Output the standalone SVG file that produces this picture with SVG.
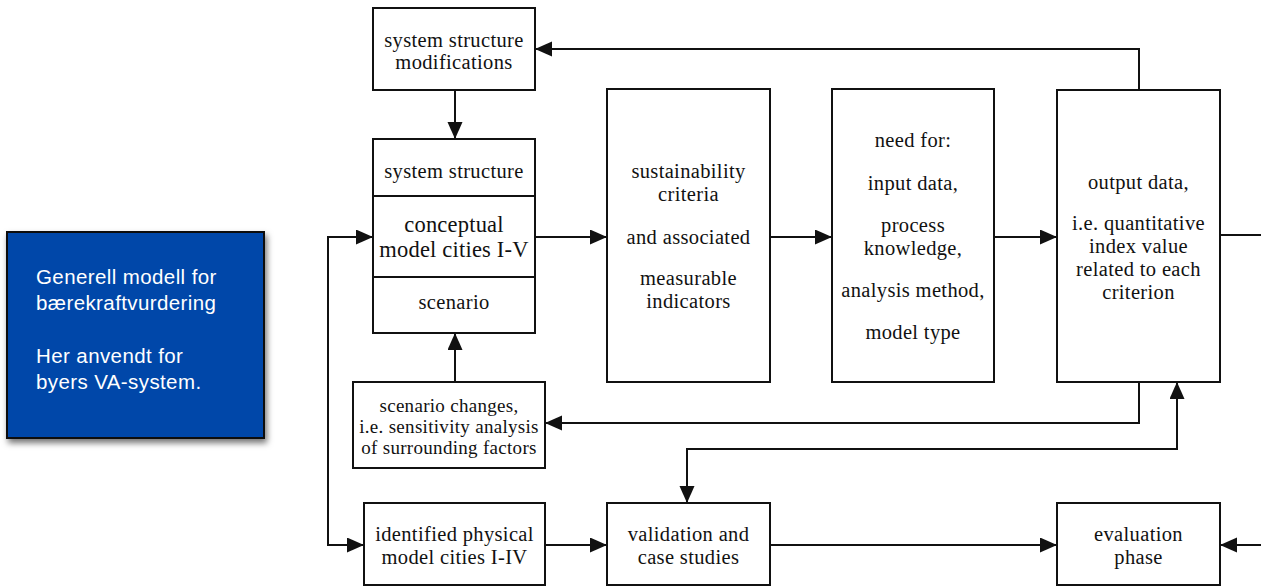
<svg xmlns="http://www.w3.org/2000/svg" width="1261" height="588" viewBox="0 0 1261 588">
<style>
.box{fill:#fff;stroke:#111;stroke-width:2}
.t{font-family:"Liberation Serif","Times New Roman",serif;font-size:20.5px;fill:#111;text-anchor:middle;letter-spacing:0.35px}
.big{font-size:22.5px;letter-spacing:0.2px}
.sm{font-size:19px;letter-spacing:0.3px}
.c{fill:none;stroke:#111;stroke-width:2}
.note{font-family:"Liberation Sans",Arial,sans-serif;font-size:20.5px;fill:#fff;letter-spacing:0.4px}
</style>
<defs>
<marker id="ah" markerUnits="userSpaceOnUse" markerWidth="18" markerHeight="16" refX="17" refY="7.5" orient="auto-start-reverse">
<path d="M0,0 L17,7.5 L0,15 z" fill="#111"/>
</marker>
<filter id="sh" x="-10%" y="-10%" width="130%" height="130%">
<feDropShadow dx="2" dy="4" stdDeviation="3" flood-color="#000" flood-opacity="0.55"/>
</filter>
</defs>
<rect width="1261" height="588" fill="#fff"/>

<g id="note">
<rect x="7" y="232" width="257" height="206" fill="#0447A9" stroke="#0a0a0a" stroke-width="2" filter="url(#sh)"/>
<text class="note" x="36" y="284">Generell modell for</text>
<text class="note" x="36" y="310">bærekraftvurdering</text>
<text class="note" x="36" y="363">Her anvendt for</text>
<text class="note" x="36" y="389">byers VA-system.</text>
</g>

<g id="connectors">
<path class="c" d="M1139,90 V49 H535" marker-end="url(#ah)"/>
<path class="c" d="M455,90 V139" marker-end="url(#ah)"/>
<path class="c" d="M535,237 H607" marker-end="url(#ah)"/>
<path class="c" d="M770,237 H832" marker-end="url(#ah)"/>
<path class="c" d="M994,237 H1057" marker-end="url(#ah)"/>
<path class="c" d="M1220,235 H1261"/>
<path class="c" d="M1139,382 V423 H545" marker-end="url(#ah)"/>
<path class="c" d="M455,382 V333" marker-end="url(#ah)"/>
<path class="c" d="M373,237 H328 V545 H364" marker-start="url(#ah)" marker-end="url(#ah)"/>
<path class="c" d="M545,545 H607" marker-end="url(#ah)"/>
<path class="c" d="M687,503 V449 H1177 V382" marker-start="url(#ah)" marker-end="url(#ah)"/>
<path class="c" d="M770,545 H1057" marker-end="url(#ah)"/>
<path class="c" d="M1261,545 H1220" marker-end="url(#ah)"/>
</g>

<g id="mods">
<rect class="box" x="373" y="8" width="162" height="82"/>
<text class="t" x="454" y="47">system structure</text>
<text class="t" x="454" y="69">modifications</text>
</g>

<g id="main">
<rect class="box" x="373" y="139" width="162" height="194"/>
<line class="c" x1="373" y1="196" x2="535" y2="196"/>
<line class="c" x1="373" y1="277" x2="535" y2="277"/>
<text class="t" x="454" y="178">system structure</text>
<text class="t big" x="454" y="232">conceptual</text>
<text class="t big" x="454" y="257">model cities I-V</text>
<text class="t" x="454" y="309">scenario</text>
</g>

<g id="sustainability">
<rect class="box" x="607" y="89" width="163" height="293"/>
<text class="t" x="688.5" y="178">sustainability</text>
<text class="t" x="688.5" y="201">criteria</text>
<text class="t" x="688.5" y="244">and associated</text>
<text class="t" x="688.5" y="285">measurable</text>
<text class="t" x="688.5" y="308">indicators</text>
</g>

<g id="need">
<rect class="box" x="832" y="89" width="162" height="293"/>
<text class="t" x="913" y="147">need for:</text>
<text class="t" x="913" y="190">input data,</text>
<text class="t" x="913" y="232">process</text>
<text class="t" x="913" y="255">knowledge,</text>
<text class="t" x="913" y="297">analysis method,</text>
<text class="t" x="913" y="339">model type</text>
</g>

<g id="output">
<rect class="box" x="1057" y="90" width="163" height="292"/>
<text class="t" x="1138.5" y="189">output data,</text>
<text class="t" x="1138.5" y="230">i.e. quantitative</text>
<text class="t" x="1138.5" y="253">index value</text>
<text class="t" x="1138.5" y="276">related to each</text>
<text class="t" x="1138.5" y="299">criterion</text>
</g>

<g id="scenario-changes">
<rect class="box" x="353" y="382" width="192" height="86"/>
<text class="t sm" x="449" y="412">scenario changes,</text>
<text class="t sm" x="449" y="433">i.e. sensitivity analysis</text>
<text class="t sm" x="449" y="454">of surrounding factors</text>
</g>

<g id="identified">
<rect class="box" x="364" y="503" width="181" height="82"/>
<text class="t" x="454.5" y="541">identified physical</text>
<text class="t" x="454.5" y="564">model cities I-IV</text>
</g>

<g id="validation">
<rect class="box" x="607" y="503" width="163" height="82"/>
<text class="t" x="688.5" y="541">validation and</text>
<text class="t" x="688.5" y="564">case studies</text>
</g>

<g id="evaluation">
<rect class="box" x="1057" y="503" width="163" height="82"/>
<text class="t" x="1138.5" y="541">evaluation</text>
<text class="t" x="1138.5" y="564">phase</text>
</g>
</svg>
